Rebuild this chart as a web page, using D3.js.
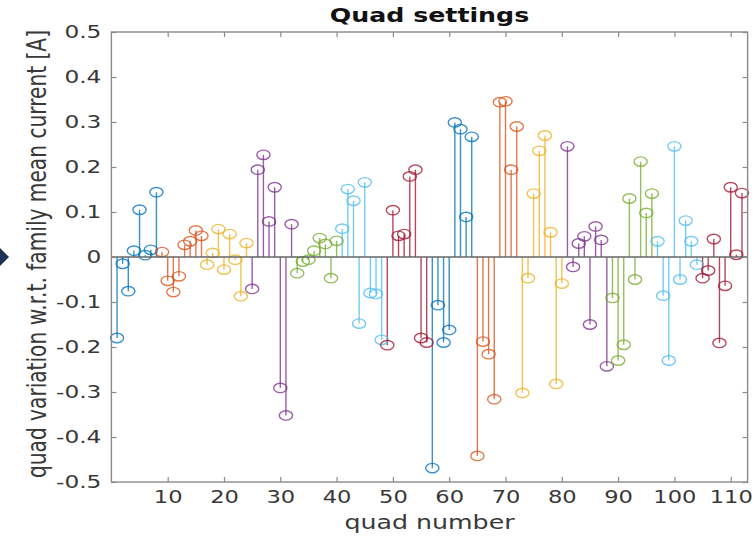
<!DOCTYPE html>
<html><head><meta charset="utf-8">
<script src="https://cdn.jsdelivr.net/npm/d3@7"></script>
<style>body{margin:0;background:#fff;} svg{display:block;}</style>
</head><body>
<svg id="c" width="756" height="536"></svg>
<script>
// quad numbers 1..112, grouped in families of 8
const quadValues = [
  -0.18, -0.015, -0.076, 0.014, 0.105, 0.004, 0.016, 0.144,
  0.011, -0.053, -0.078, -0.043, 0.027, 0.035, 0.059, 0.047,
  -0.017, 0.009, 0.062, -0.028, 0.051, -0.006, -0.087, 0.031,
  -0.071, 0.194, 0.227, 0.079, 0.155, -0.291, -0.352, 0.073,
  -0.036, -0.01, -0.006, 0.014, 0.042, 0.029, -0.047, 0.036,
  0.063, 0.151, 0.125, -0.148, 0.166, -0.08, -0.082, -0.184,
  -0.196, 0.104, 0.047, 0.051, 0.179, 0.194, -0.18, -0.19,
  -0.469, -0.107, -0.19, -0.162, 0.299, 0.284, 0.089, 0.267,
  -0.442, -0.188, -0.216, -0.316, 0.344, 0.346, 0.194, 0.29,
  -0.302, -0.047, 0.141, 0.236, 0.27, 0.055, -0.282, -0.059,
  0.246, -0.022, 0.03, 0.046, -0.15, 0.068, 0.038, -0.243,
  -0.091, -0.23, -0.195, 0.13, -0.05, 0.212, 0.098, 0.141,
  0.035, -0.086, -0.23, 0.246, -0.05, 0.081, 0.035, -0.017,
  -0.047, -0.03, 0.04, -0.191, -0.064, 0.155, 0.005, 0.142
];
const familySize = 8;
const familyColors = ["#0072BD","#D95319","#EDB120","#7E2F8E","#77AC30","#4DBEEE","#A2142F"];
const xTickValues = [10,20,30,40,50,60,70,80,90,100,110];
const xTickLabels = ["10","20","30","40","50","60","70","80","90","100","110"];
const yTickValues = [-0.5,-0.4,-0.3,-0.2,-0.1,0,0.1,0.2,0.3,0.4,0.5];
const yTickLabels = ["-0.5","-0.4","-0.3","-0.2","-0.1","0","0.1","0.2","0.3","0.4","0.5"];
const titleText = "Quad settings";
const xLabelText = "quad number";
const yLabelText = "quad variation w.r.t. family mean current [A]";

const svg = d3.select("#c");
const L = 111.4, R = 747.6, T = 32, B = 482;
const SX = 1.33;
const x = d3.scaleLinear().domain([0,113]).range([L,R]);
const y = d3.scaleLinear().domain([-0.5,0.5]).range([B,T]);
const axisColor = "#8a8a8a", textColor = "#383838";
const font = "DejaVu Sans, sans-serif";

// decorative marker at left edge
svg.append("polygon").attr("points","0,248 9,257 0,266").attr("fill","#1c3557");

// stems
const data = quadValues.map((v,i)=>({q:i+1, v, c: familyColors[Math.floor(i/familySize)%familyColors.length]}));
const g = svg.append("g");
g.selectAll("line.stem").data(data).join("line").attr("class","stem")
  .attr("x1",d=>x(d.q)).attr("x2",d=>x(d.q))
  .attr("y1",y(0)).attr("y2",d=>y(d.v))
  .attr("stroke",d=>d.c).attr("stroke-width",1.4).attr("stroke-opacity",0.78);
// baseline
svg.append("line").attr("x1",L).attr("x2",R).attr("y1",y(0)).attr("y2",y(0))
  .attr("stroke","#666").attr("stroke-width",1.3);
g.selectAll("ellipse").data(data).join("ellipse")
  .attr("cx",d=>x(d.q)).attr("cy",d=>y(d.v)).attr("rx",6.6).attr("ry",4.7)
  .attr("fill","none").attr("stroke",d=>d.c).attr("stroke-width",1.4).attr("stroke-opacity",0.78);

// axes (ticks inward)
function styleAxis(sel){
  sel.select(".domain").remove();
  sel.selectAll(".tick line").attr("stroke",axisColor).attr("stroke-width",1.2);
}
const xb = svg.append("g").attr("transform",`translate(0,${B})`)
  .call(d3.axisBottom(x).tickValues(xTickValues).tickFormat((d,i)=>xTickLabels[i]).tickSizeInner(-5).tickSizeOuter(0).tickPadding(9));
styleAxis(xb);
xb.selectAll(".tick text").attr("font-family",font).attr("font-size",17).attr("fill",textColor)
  .attr("transform",`scale(${SX},1)`);
const xt = svg.append("g").attr("transform",`translate(0,${T})`)
  .call(d3.axisTop(x).tickValues(xTickValues).tickFormat("").tickSizeInner(-5).tickSizeOuter(0));
styleAxis(xt);
const yl = svg.append("g").attr("transform",`translate(${L},0)`)
  .call(d3.axisLeft(y).tickValues(yTickValues).tickFormat((d,i)=>yTickLabels[i]).tickSizeInner(-5).tickSizeOuter(0).tickPadding(10));
styleAxis(yl);
yl.selectAll(".tick text").attr("font-family",font).attr("font-size",17.5).attr("fill",textColor)
  .attr("x",0).attr("transform",`translate(-10,0) scale(${SX},1)`);
const yr = svg.append("g").attr("transform",`translate(${R},0)`)
  .call(d3.axisRight(y).tickValues(yTickValues).tickFormat("").tickSizeInner(-5).tickSizeOuter(0));
styleAxis(yr);

// box
svg.append("rect").attr("x",L).attr("y",T).attr("width",R-L).attr("height",B-T)
  .attr("fill","none").attr("stroke",axisColor).attr("stroke-width",1.4);

// title & labels
svg.append("text").attr("transform",`translate(${(L+R)/2},22) scale(${SX},1)`)
  .attr("text-anchor","middle").attr("font-family",font).attr("font-weight","bold")
  .attr("font-size",19).attr("fill","#111").text(titleText);
svg.append("text").attr("transform",`translate(${(L+R)/2},529) scale(${SX},1)`)
  .attr("text-anchor","middle").attr("font-family",font)
  .attr("font-size",19).attr("fill",textColor).text(xLabelText);
const yt = svg.append("text").attr("transform",`translate(46,254) scale(${SX},1) rotate(-90)`)
  .attr("text-anchor","middle").attr("font-family",font)
  .attr("font-size",19.5).attr("fill",textColor).text(yLabelText);
yt.attr("textLength",448).attr("lengthAdjust","spacingAndGlyphs");
</script>
</body></html>
